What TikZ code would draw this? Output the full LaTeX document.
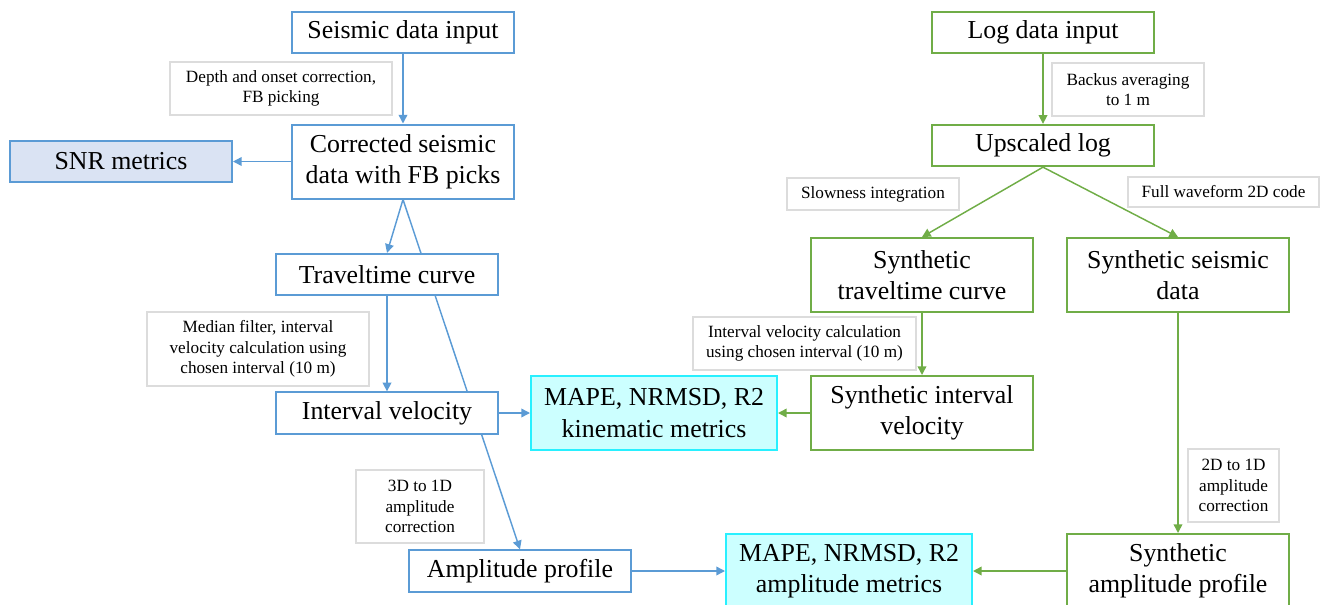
\documentclass[tikz,border=0pt]{standalone}
\usepackage{fontspec}
\setmainfont{Liberation Serif}
\usetikzlibrary{arrows.meta,backgrounds}

\definecolor{sblue}{RGB}{91,155,213}
\definecolor{sgreen}{RGB}{112,173,71}
\definecolor{snrfill}{RGB}{218,227,243}
\definecolor{cyanline}{RGB}{40,240,255}
\definecolor{cyanfill}{RGB}{204,255,255}
\definecolor{notegray}{RGB}{220,220,220}

\tikzset{
  box/.style={rectangle, line width=1.5pt, fill=white, inner sep=0pt, align=center,
    minimum width=166.5pt, minimum height=31pt, font=\fontsize{19.4pt}{23.5pt}\selectfont},
  sbox/.style={box, draw=sblue},
  gbox/.style={box, draw=sgreen},
  mbox/.style={box, draw=cyanline, fill=cyanfill, minimum width=184.5pt},
  tall/.style={minimum height=55.5pt},
  note/.style={rectangle, draw=notegray, line width=0.8pt, fill=white, inner sep=0pt, align=center,
    font=\fontsize{12.9pt}{15.5pt}\selectfont},
  sarr/.style={draw=sblue, line width=1.1pt, -{Triangle[length=6.5pt,width=6.5pt]}},
  garr/.style={draw=sgreen, line width=1.1pt, -{Triangle[length=6.5pt,width=6.5pt]}}
}

\begin{document}
\begin{tikzpicture}[x=0.75pt,y=-0.75pt]
\useasboundingbox (0,0) rectangle (1325,604);
\clip (0,0) rectangle (1325,604);

% Seismic branch
\node[sbox] (sdin) at (403,32.5) {Seismic data input};
\node[sbox,tall] (corr) at (403,161.5) {Corrected seismic\\data with FB picks};
\node[sbox,fill=snrfill] (snr) at (121,161.5) {SNR metrics};
\node[sbox] (ttc) at (387,274.5) {Traveltime curve};
\node[sbox] (iv) at (387,413) {Interval velocity};
\node[sbox] (amp) at (520,571) {Amplitude profile};

% Metrics
\node[mbox,tall] (kin) at (654,413) {MAPE, NRMSD, R2\\kinematic metrics};
\node[mbox,tall] (ampm) at (849,571) {MAPE, NRMSD, R2\\amplitude metrics};

% Log branch
\node[gbox] (login) at (1043,32.5) {Log data input};
\node[gbox] (ups) at (1043,145.5) {Upscaled log};
\node[gbox,tall] (sttc) at (922,275) {Synthetic\\traveltime curve};
\node[gbox,tall] (ssd) at (1178,275) {Synthetic seismic\\data};
\node[gbox,tall] (siv) at (922,413) {Synthetic interval\\velocity};
\node[gbox,tall] (samp) at (1178,571) {Synthetic\\amplitude profile};

% Process notes
\node[note, minimum width=166.5pt, minimum height=39.75pt] (ndepth) at (281,88.5) {Depth and onset correction,\\FB picking};
\node[note, minimum width=166.5pt, minimum height=55.5pt] (nmedian) at (258,349) {Median filter, interval\\velocity calculation using\\chosen interval (10 m)};
\node[note, minimum width=96pt, minimum height=54.75pt] (nthree) at (420,506.5) {3D to 1D\\amplitude\\correction};
\node[note, minimum width=114pt, minimum height=39.75pt] (nbackus) at (1128,89.5) {Backus averaging\\to 1 m};
\node[note, minimum width=129pt, minimum height=24pt] (nslow) at (873,194) {Slowness integration};
\node[note, minimum width=143.25pt, minimum height=22.5pt] (nfull) at (1223.5,192) {Full waveform 2D code};
\node[note, minimum width=167.25pt, minimum height=39.75pt] (nivc) at (804.5,343.5) {Interval velocity calculation\\using chosen interval (10 m)};
\node[note, minimum width=68.25pt, minimum height=54.75pt] (ntwo) at (1233.5,485.5) {2D to 1D\\amplitude\\correction};

% Connectors behind the boxes
\begin{scope}[on background layer]
\draw[sarr] (sdin) -- (corr);
\draw[sarr] (corr) -- (snr);
\draw[sarr] (corr.south) -- (ttc.north);
\draw[sarr] (corr.south) -- (amp.north);
\draw[sarr] (ttc) -- (iv);
\draw[sarr] (iv) -- (kin);
\draw[sarr] (amp) -- (ampm);

\draw[garr] (login) -- (ups);
\draw[garr] (ups.south) -- (sttc.north);
\draw[garr] (ups.south) -- (ssd.north);
\draw[garr] (sttc) -- (siv);
\draw[garr] (siv) -- (kin);
\draw[garr] (ssd) -- (samp);
\draw[garr] (samp.west) -- (ampm.east);
\end{scope}

\end{tikzpicture}
\end{document}
